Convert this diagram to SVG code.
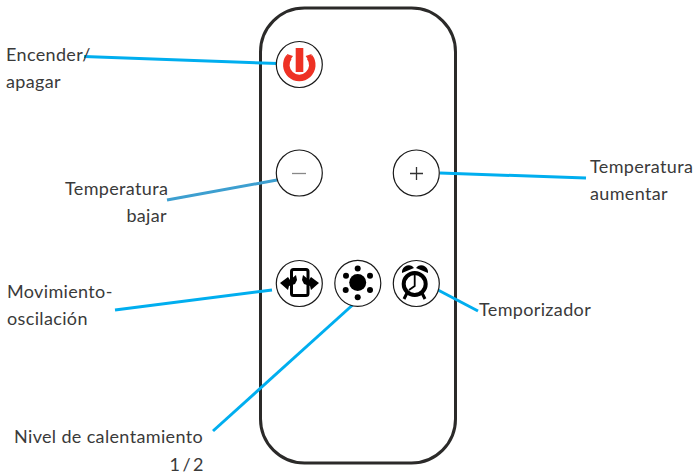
<svg xmlns="http://www.w3.org/2000/svg" width="693" height="476" viewBox="0 0 693 476">
<style>
text{font-family:"Lato","Liberation Sans",sans-serif;font-size:18px;letter-spacing:.35px;fill:#3a3a3a}
.c{stroke:#00aeef;stroke-width:3;fill:none}
.b{fill:#fff;stroke:#1a1a1a;stroke-width:1.2}
.k{fill:#000;stroke:none}
.ks{fill:none;stroke:#000}
</style>
<rect width="693" height="476" fill="#fff"/>
<g id="remote"><rect x="260.500" y="8" width="195" height="455" rx="44" ry="44" fill="#fff" stroke="#2b2a29" stroke-width="3"/></g>
<g id="connectors">
<line class="c" x1="84" y1="56.500" x2="278" y2="63.500"/>
<line x1="167" y1="200" x2="277" y2="180" stroke="#3d9fd0" stroke-width="3"/>
<line class="c" x1="440" y1="173" x2="586" y2="178"/>
<line class="c" x1="115" y1="310" x2="272" y2="290"/>
<line class="c" x1="213" y1="431" x2="357" y2="301"/>
<line class="c" x1="438" y1="290" x2="478" y2="311"/>
</g>
<g id="power">
<circle class="b" cx="299.300" cy="64.500" r="23"/>
<path d="M289 57A13 13 0 1 0 309.600 57" fill="none" stroke="#ee3124" stroke-width="6.500"/>
<path d="M287 54L293 56L288 63ZM311.600 54L305.600 56L310.600 63Z" fill="#ee3124"/>
<rect x="295.700" y="48" width="7.600" height="24" fill="#ee3124"/>
</g>
<g id="minus">
<circle class="b" cx="299.300" cy="173" r="23"/>
<line x1="292" y1="173.500" x2="306" y2="173.500" stroke="#888" stroke-width="1.300"/>
</g>
<g id="plus">
<circle class="b" cx="416.300" cy="173" r="23"/>
<path d="M410 173.500H423M416.500 167V180" stroke="#333" stroke-width="1.300" fill="none"/>
</g>
<g id="swing">
<circle class="b" cx="299.300" cy="283.500" r="23"/>
<rect x="291.500" y="269.500" width="16.500" height="26" rx="2" fill="#fff" stroke="#000" stroke-width="3"/>
<path class="k" d="M280 283L288 277L290 280L296 275L297 280L295 284L289 286L288 290ZM319 283L311 277L309 280L303 275L302 280L304 284L310 286L311 290Z"/>
</g>
<g id="heat">
<circle class="b" cx="357.800" cy="283.300" r="23"/>
<circle class="k" cx="357.700" cy="282.500" r="8.500"/>
<circle class="k" cx="357.700" cy="268.500" r="3"/><circle class="k" cx="357.700" cy="297.300" r="3"/>
<circle class="k" cx="346" cy="275.700" r="3"/><circle class="k" cx="370" cy="275.700" r="3"/>
<circle class="k" cx="345.700" cy="290" r="3"/><circle class="k" cx="370" cy="290" r="3"/>
</g>
<g id="timer">
<circle class="b" cx="416.300" cy="283.500" r="23"/>
<path class="ks" stroke-width="3" d="M407 293L404 299M422 293L425 299"/>
<path class="k" d="M402 273A7 7 0 0 1 412 266L414 268ZM416 268L418 266A7 7 0 0 1 428 273Z"/>
<circle cx="414.700" cy="284" r="11" fill="#fff" stroke="#000" stroke-width="4"/>
<path class="ks" stroke-width="1.800" d="M414.700 275V286L409 290"/>
</g>
<g id="labels">
<text x="6" y="61">Encender/</text>
<text x="6" y="88">apagar</text>
<text x="65" y="195">Temperatura</text>
<text x="167" y="222" text-anchor="end">bajar</text>
<text x="590" y="173">Temperatura</text>
<text x="590" y="200">aumentar</text>
<text x="7" y="298">Movimiento-</text>
<text x="7" y="325">oscilación</text>
<text x="479" y="316">Temporizador</text>
<text x="14" y="443">Nivel de calentamiento</text>
<text x="206" y="471" text-anchor="end" style="letter-spacing:2.500px">1/2</text>
</g>
</svg>
